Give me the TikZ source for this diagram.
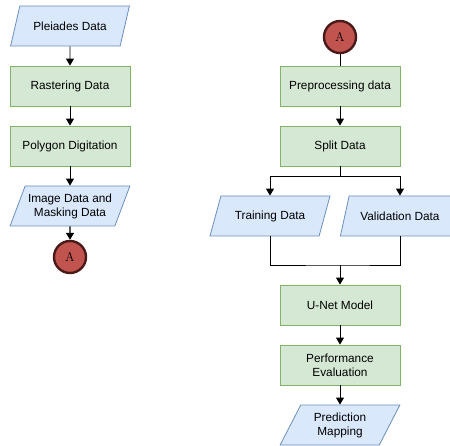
\documentclass[tikz,border=0pt]{standalone}
\usepackage{fontspec}
\newfontfamily\flowfont{Liberation Sans}
\usetikzlibrary{shapes.geometric,arrows.meta}
\definecolor{procfill}{HTML}{D5E8D4}
\definecolor{procline}{HTML}{82B366}
\definecolor{datafill}{HTML}{DAE8FC}
\definecolor{dataline}{HTML}{6C8EBF}
\definecolor{connfill}{HTML}{C25450}
\definecolor{connline}{HTML}{4A1A18}
\begin{document}
\begin{tikzpicture}[x=1pt,y=-1pt,
  process/.style={draw=procline,fill=procfill,line width=0.8pt,minimum width=120pt,minimum height=40pt,
    font=\flowfont\fontsize{11.8}{14}\selectfont,align=center},
  data/.style={trapezium,trapezium left angle=65,trapezium right angle=115,trapezium stretches=true,
    draw=dataline,fill=datafill,line width=0.8pt,minimum width=120pt,minimum height=40pt,inner xsep=2pt,
    font=\flowfont\fontsize{11.8}{14}\selectfont,align=center},
  conn/.style={circle,draw=connline,line width=2.4pt,fill=connfill,minimum size=32pt,inner sep=0pt,
    font=\fontsize{13}{13}\selectfont},
  flow/.style={-{Triangle[length=7pt,width=8pt]},line width=0.9pt}]
  \useasboundingbox (0,0) rectangle (450,446);

  % Left column
  \node[data] (pleiades) at (70,26) {Pleiades Data};
  \node[process] (raster) at (70,86) {Rastering Data};
  \node[process] (polygon) at (70,146) {Polygon Digitation};
  \node[data] (imagedata) at (70,206) {Image Data and\\Masking Data};
  \node[conn] (connA) at (70,257) {A};
  \draw[flow] (pleiades) -- (raster);
  \draw[flow] (raster) -- (polygon);
  \draw[flow] (polygon) -- (imagedata);
  \draw[flow,line width=1.3pt] (imagedata) -- (connA);

  % Right column
  \node[conn] (connB) at (340,37) {A};
  \node[process] (preproc) at (340,86) {Preprocessing data};
  \node[process] (split) at (340,146) {Split Data};
  \node[data] (train) at (270,216) {Training Data};
  \node[data] (valid) at (400,216) {Validation Data};
  \node[process] (unet) at (340,305) {U-Net Model};
  \node[process] (perf) at (340,365) {Performance\\Evaluation};
  \node[data] (predict) at (340,425) {Prediction\\Mapping};
  \coordinate (fork) at (340,176);
  \coordinate (join) at (340,265);
  \draw[line width=0.9pt] (connB) -- (preproc);
  \draw[flow] (preproc) -- (split);
  \draw[line width=0.9pt] (split) -- (fork);
  \draw[flow] (fork) -| (train);
  \draw[flow] (fork) -| (valid);
  \draw[line width=0.9pt] (train) |- (join) -| (valid);
  \draw[flow] (join) -- (unet);
  \draw[flow] (unet) -- (perf);
  \draw[flow] (perf) -- (predict);
\end{tikzpicture}
\end{document}
